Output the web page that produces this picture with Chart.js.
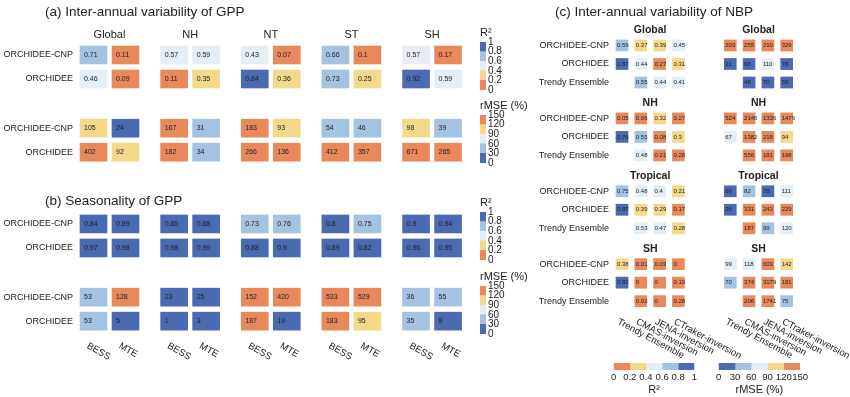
<!DOCTYPE html>
<html>
<head>
<meta charset="utf-8">
<script src="https://cdn.jsdelivr.net/npm/chart.js@4.4.1/dist/chart.umd.min.js"></script>
<style>
  body { margin: 0; background: #fff; }
  #fig { position: relative; width: 850px; height: 397px; overflow: hidden; }
  #fig canvas { position: absolute; }
</style>
</head>
<body>
<div id="fig">
  <canvas id="gpp" width="850" height="397" style="left:0;top:0"></canvas>
  <canvas id="nbp" width="850" height="397" style="left:0;top:0"></canvas>
</div>
<script>
/* ---------- GPP data, panels (a) and (b) ---------- */
const gppRegions = ['Global', 'NH', 'NT', 'ST', 'SH']
const gppRefs = ['BESS', 'MTE']
const gppModels = ['ORCHIDEE-CNP', 'ORCHIDEE']

// order: Global BESS, Global MTE, NH BESS, NH MTE, ... SH MTE
const iavR2Cnp = [0.71, 0.11, 0.57, 0.59, 0.43, 0.07, 0.66, 0.1, 0.57, 0.17]
const iavR2Orc = [0.46, 0.09, 0.11, 0.35, 0.84, 0.36, 0.73, 0.25, 0.92, 0.59]
const iavRmseCnp = [105, 24, 167, 31, 183, 93, 54, 46, 98, 39]
const iavRmseOrc = [402, 92, 182, 34, 266, 136, 412, 357, 671, 265]

const seaR2Cnp = [0.84, 0.89, 0.85, 0.88, 0.73, 0.76, 0.8, 0.75, 0.9, 0.94]
const seaR2Orc = [0.97, 0.98, 0.98, 0.99, 0.88, 0.9, 0.89, 0.82, 0.96, 0.95]
const seaRmseCnp = [53, 128, 23, 25, 152, 420, 533, 529, 36, 55]
const seaRmseOrc = [53, 5, 1, 3, 187, 19, 183, 95, 35, 8]

/* ---------- NBP data, panel (c) ---------- */
const nbpRegions = ['Global', 'NH', 'Tropical', 'SH']
const nbpRefs = ['Trendy Ensemble', 'CMAS-inversion', 'JENA-inversion', 'CTraker-inversion']
const nbpModels = ['ORCHIDEE-CNP', 'ORCHIDEE', 'Trendy Ensemble']

// rows: ORCHIDEE-CNP, ORCHIDEE, Trendy Ensemble
const nbpR2Global = [[0.59, 0.37, 0.39, 0.45], [0.87, 0.44, 0.27, 0.31], [null, 0.55, 0.44, 0.41]]
const nbpR2NH = [[0.05, 0.06, 0.32, 0.27], [0.76, 0.55, 0.08, 0.3], [null, 0.48, 0.21, 0.28]]
const nbpR2Trop = [[0.75, 0.48, 0.4, 0.21], [0.87, 0.39, 0.29, 0.17], [null, 0.53, 0.47, 0.28]]
const nbpR2SH = [[0.38, 0.01, 0.03, 0], [0.82, 0, 0, 0.19], [null, 0.02, 0, 0.28]]

const nbpRmseGlobal = [[203, 255, 210, 329], [21, 68, 110, 78], [null, 48, 70, 59]]
const nbpRmseNH = [[524, 2146, 1336, 1479], [67, 1382, 218, 94], [null, 556, 181, 198]]
const nbpRmseTrop = [[66, 82, 78, 111], [36, 331, 243, 229], [null, 187, 99, 120]]
const nbpRmseSH = [[99, 118, 603, 142], [70, 374, 3179, 191], [null, 206, 1741, 75]]

// in (c) the cell shading does not follow the printed numbers, so the shade
// class read off the picture is kept too (0 = orange ... 4 = dark blue)
const nbpR2GlobalShade = [[3, 1, 1, 2], [4, 2, 0, 1], [null, 3, 2, 2]]
const nbpR2NHShade = [[0, 0, 1, 0], [4, 3, 0, 1], [null, 2, 0, 0]]
const nbpR2TropShade = [[3, 2, 2, 1], [4, 1, 1, 0], [null, 2, 2, 1]]
const nbpR2SHShade = [[1, 0, 0, 0], [4, 0, 0, 0], [null, 0, 0, 0]]
const nbpRmseGlobalShade = [[0, 0, 0, 0], [4, 4, 2, 4], [null, 4, 4, 4]]
const nbpRmseNHShade = [[0, 0, 0, 0], [2, 0, 0, 1], [null, 0, 0, 0]]
const nbpRmseTropShade = [[4, 3, 4, 2], [4, 0, 0, 0], [null, 0, 3, 2]]
const nbpRmseSHShade = [[2, 2, 0, 1], [3, 0, 0, 0], [null, 0, 0, 3]]

/* ---------- look ---------- */
const FONT = '"Liberation Sans", Arial, sans-serif'
Chart.defaults.font.family = FONT
Chart.defaults.color = '#222'

const shades = ['#e8885b', '#f5d98b', '#e3eef7', '#a4c2e2', '#4a6ab1']
function r2Shade(v) { return Math.min(4, Math.floor(v / 0.2)) }
function rmseShade(v) { return 4 - Math.min(4, Math.floor(v / 30)) }

function font(size, bold) { return (bold ? 'bold ' : '') + size + 'px ' + FONT }

function label(ctx, s, x, y, f, align, angle) {
    ctx.save()
    ctx.font = f
    ctx.fillStyle = '#222'
    ctx.textAlign = align || 'left'
    ctx.textBaseline = 'middle'
    ctx.translate(x, y)
    if (angle) ctx.rotate(angle)
    ctx.fillText(s, 0, 0)
    ctx.restore()
}

// number inside each cell, left aligned
function drawCellValues(chart, pad, f) {
    chart.data.datasets.forEach((ds, i) => {
        chart.getDatasetMeta(i).data.forEach((bar, k) => {
            label(chart.ctx, String(ds.values[k]), bar.x - bar.width / 2 + pad, (bar.y + bar.base) / 2, f)
        })
    })
}

const baseOptions = {
    responsive: false, animation: false, events: [],
    layout: { padding: 0 },
    plugins: { legend: { display: false }, tooltip: { enabled: false } }
}

/* ---------- left chart: GPP ---------- */
const GPP_GROUP = 2.52
const GPP_PANEL_Y = [0, 7.04]
const GPP_METRIC_Y = { r2: 0, rmse: 3.05 }
function gppX(i) { return Math.floor(i / 2) * GPP_GROUP + i % 2 }

const gppBlocks = [
    { panel: 0, metric: 'r2', rows: [iavR2Cnp, iavR2Orc] },
    { panel: 0, metric: 'rmse', rows: [iavRmseCnp, iavRmseOrc] },
    { panel: 1, metric: 'r2', rows: [seaR2Cnp, seaR2Orc] },
    { panel: 1, metric: 'rmse', rows: [seaRmseCnp, seaRmseOrc] }
]
function gppRowY(b, r) { return GPP_PANEL_Y[b.panel] + GPP_METRIC_Y[b.metric] + r }

let gppDatasets = []
gppBlocks.forEach(b => b.rows.forEach((vals, r) => {
    let yc = gppRowY(b, r)
    gppDatasets.push({
        data: vals.map((v, i) => ({ x: gppX(i), y: [yc - 0.375, yc + 0.375] })),
        backgroundColor: vals.map(v => shades[b.metric == 'r2' ? r2Shade(v) : rmseShade(v)]),
        values: vals,
        grouped: false, barPercentage: 1, categoryPercentage: 1, maxBarThickness: 27
    })
}))

// colour bars: x, y = top left of the bar in page pixels
const cbSpecs = [
    { x: 480, y: 42, w: 6, h: 48, max: 1, order: [0, 1, 2, 3, 4], label: 'R²' },
    { x: 480, y: 115, w: 6, h: 48, max: 150, order: [4, 3, 2, 1, 0], label: 'rMSE (%)' },
    { x: 480, y: 212, w: 6, h: 48, max: 1, order: [0, 1, 2, 3, 4], label: 'R²' },
    { x: 480, y: 286, w: 6, h: 48, max: 150, order: [4, 3, 2, 1, 0], label: 'rMSE (%)' },
    { x: 614, y: 363, w: 81, h: 7, max: 1, order: [0, 1, 2, 3, 4], label: 'R²', horizontal: true },
    { x: 719, y: 363, w: 81, h: 7, max: 150, order: [4, 3, 2, 1, 0], label: 'rMSE (%)', horizontal: true }
]

const gppText = {
    id: 'gppText',
    afterDatasetsDraw(chart) {
        let ctx = chart.ctx, xs = chart.scales.x, ys = chart.scales.y
        drawCellValues(chart, 4, font(7))
        label(ctx, '(a) Inter-annual variability of GPP', 45, ys.getPixelForValue(-1.8), font(13.5))
        label(ctx, '(b) Seasonality of GPP', 45, ys.getPixelForValue(GPP_PANEL_Y[1] - 0.93), font(13.5))
        gppRegions.forEach((reg, g) => {
            label(ctx, reg, xs.getPixelForValue(gppX(2 * g) + 0.5), ys.getPixelForValue(-0.83), font(11), 'center')
        })
        let left = xs.getPixelForValue(0) - 27 / 2
        gppBlocks.forEach(b => gppModels.forEach((m, r) => {
            label(ctx, m, left - 7, ys.getPixelForValue(gppRowY(b, r)), font(9), 'right')
        }))
        let yb = ys.getPixelForValue(gppRowY(gppBlocks[3], 1)) + 9 + 15
        for (let i = 0; i < gppRegions.length * 2; i++) {
            label(ctx, gppRefs[i % 2], xs.getPixelForValue(gppX(i)) - 6, yb, font(9.5), 'left', Math.PI / 6)
        }
        cbSpecs.filter(s => !s.horizontal).forEach(s => label(ctx, s.label, s.x, s.y - 9, font(11)))
    }
}

new Chart(document.getElementById('gpp'), {
    type: 'bar',
    data: { datasets: gppDatasets },
    options: Object.assign({}, baseOptions, {
        scales: {
            x: { type: 'linear', display: false, offset: false, min: -93.5 / 32, max: (850 - 93.5) / 32 },
            y: { type: 'linear', display: false, reverse: true, min: -55 / 24, max: (397 - 55) / 24 }
        }
    }),
    plugins: [gppText]
})

/* ---------- right chart: NBP ---------- */
const NBP_BLOCK = 5.76
const NBP_GROUP = 3.94
function nbpX(b, j) { return b * NBP_BLOCK + j }

const nbpBlocks = [
    { b: 0, regions: [nbpR2Global, nbpR2NH, nbpR2Trop, nbpR2SH], shade: [nbpR2GlobalShade, nbpR2NHShade, nbpR2TropShade, nbpR2SHShade] },
    { b: 1, regions: [nbpRmseGlobal, nbpRmseNH, nbpRmseTrop, nbpRmseSH], shade: [nbpRmseGlobalShade, nbpRmseNHShade, nbpRmseTropShade, nbpRmseSHShade] }
]

let nbpDatasets = []
nbpBlocks.forEach(blk => blk.regions.forEach((rows, g) => rows.forEach((vals, r) => {
    let yc = g * NBP_GROUP + r
    let idx = vals.map((v, j) => j).filter(j => vals[j] !== null)
    nbpDatasets.push({
        data: idx.map(j => ({ x: nbpX(blk.b, j), y: [yc - 0.3, yc + 0.3] })),
        backgroundColor: idx.map(j => shades[blk.shade[g][r][j]]),
        values: idx.map(j => vals[j]),
        grouped: false, barPercentage: 1, categoryPercentage: 1, maxBarThickness: 12
    })
})))

const nbpText = {
    id: 'nbpText',
    afterDatasetsDraw(chart) {
        let ctx = chart.ctx, xs = chart.scales.x, ys = chart.scales.y
        drawCellValues(chart, 1, font(6))
        label(ctx, '(c) Inter-annual variability of NBP', 555, 12, font(13.5))
        let left = xs.getPixelForValue(0) - 6
        nbpRegions.forEach((reg, g) => {
            [0, 1].forEach(b => {
                label(ctx, reg, xs.getPixelForValue(nbpX(b, 1.5)), ys.getPixelForValue(g * NBP_GROUP - 0.84), font(10.5, true), 'center')
            })
            nbpModels.forEach((m, r) => label(ctx, m, left - 7, ys.getPixelForValue(g * NBP_GROUP + r), font(9), 'right'))
        })
        let yb = ys.getPixelForValue(3 * NBP_GROUP + 2) + 5.5 + 14.5
        ;[0, 1].forEach(b => nbpRefs.forEach((ref, j) => {
            label(ctx, ref, xs.getPixelForValue(nbpX(b, j)) - 4, yb, font(9.5), 'left', Math.PI / 6.4)
        }))
    }
}

new Chart(document.getElementById('nbp'), {
    type: 'bar',
    data: { datasets: nbpDatasets },
    options: Object.assign({}, baseOptions, {
        scales: {
            x: { type: 'linear', display: false, offset: false, min: -622 / 18.8, max: (850 - 622) / 18.8 },
            y: { type: 'linear', display: false, reverse: true, min: -45.5 / 18.5, max: (397 - 45.5) / 18.5 }
        }
    }),
    plugins: [nbpText]
})

/* ---------- colour bars, each one a small stacked bar chart ---------- */
const fig = document.getElementById('fig')

function colorbarConfig(s) {
    let n = s.order.length
    let valueAxis = {
        stacked: true, min: 0, max: s.max, position: s.horizontal ? 'bottom' : 'right',
        ticks: {
            stepSize: s.max / n, font: { size: s.horizontal ? 9.5 : 10 }, color: '#222', padding: 2,
            autoSkip: false, maxRotation: 0,
            callback: v => String(Math.round(v * 10) / 10)
        },
        grid: { display: false, drawTicks: false }, border: { display: false },
        title: { display: !!s.horizontal, text: s.label, font: { size: 11 }, color: '#222', padding: 0 },
        // fixed axis size, so the canvas can be sized to the bar
        afterFit(scale) {
            if (s.horizontal) scale.height = 27
            else scale.width = 24
        }
    }
    return {
        type: 'bar',
        data: {
            labels: [''],
            datasets: s.order.map(c => ({ data: [s.max / n], backgroundColor: shades[c], barPercentage: 1, categoryPercentage: 1 }))
        },
        options: Object.assign({}, baseOptions, {
            maintainAspectRatio: false,
            indexAxis: s.horizontal ? 'y' : 'x',
            scales: s.horizontal
                ? { y: { display: false, stacked: true }, x: valueAxis }
                : { x: { display: false, stacked: true }, y: valueAxis }
        })
    }
}

function makeColorbar(s) {
    let w = s.horizontal ? s.w + 16 : s.w + 24
    let h = s.horizontal ? s.h + 27 : s.h + 12
    let chart, canvas
    for (let pass = 0; pass < 4; pass++) {
        if (chart) { chart.destroy(); canvas.remove() }
        canvas = document.createElement('canvas')
        canvas.width = w
        canvas.height = h
        fig.appendChild(canvas)
        chart = new Chart(canvas, colorbarConfig(s))
        let a = chart.chartArea
        let dw = s.w - (a.right - a.left), dh = s.h - (a.bottom - a.top)
        if (Math.abs(dw) < 0.5 && Math.abs(dh) < 0.5) break
        w = Math.round(w + dw)
        h = Math.round(h + dh)
    }
    canvas.style.left = Math.round(s.x - chart.chartArea.left) + 'px'
    canvas.style.top = Math.round(s.y - chart.chartArea.top) + 'px'
}

cbSpecs.forEach(makeColorbar)
</script>
</body>
</html>
